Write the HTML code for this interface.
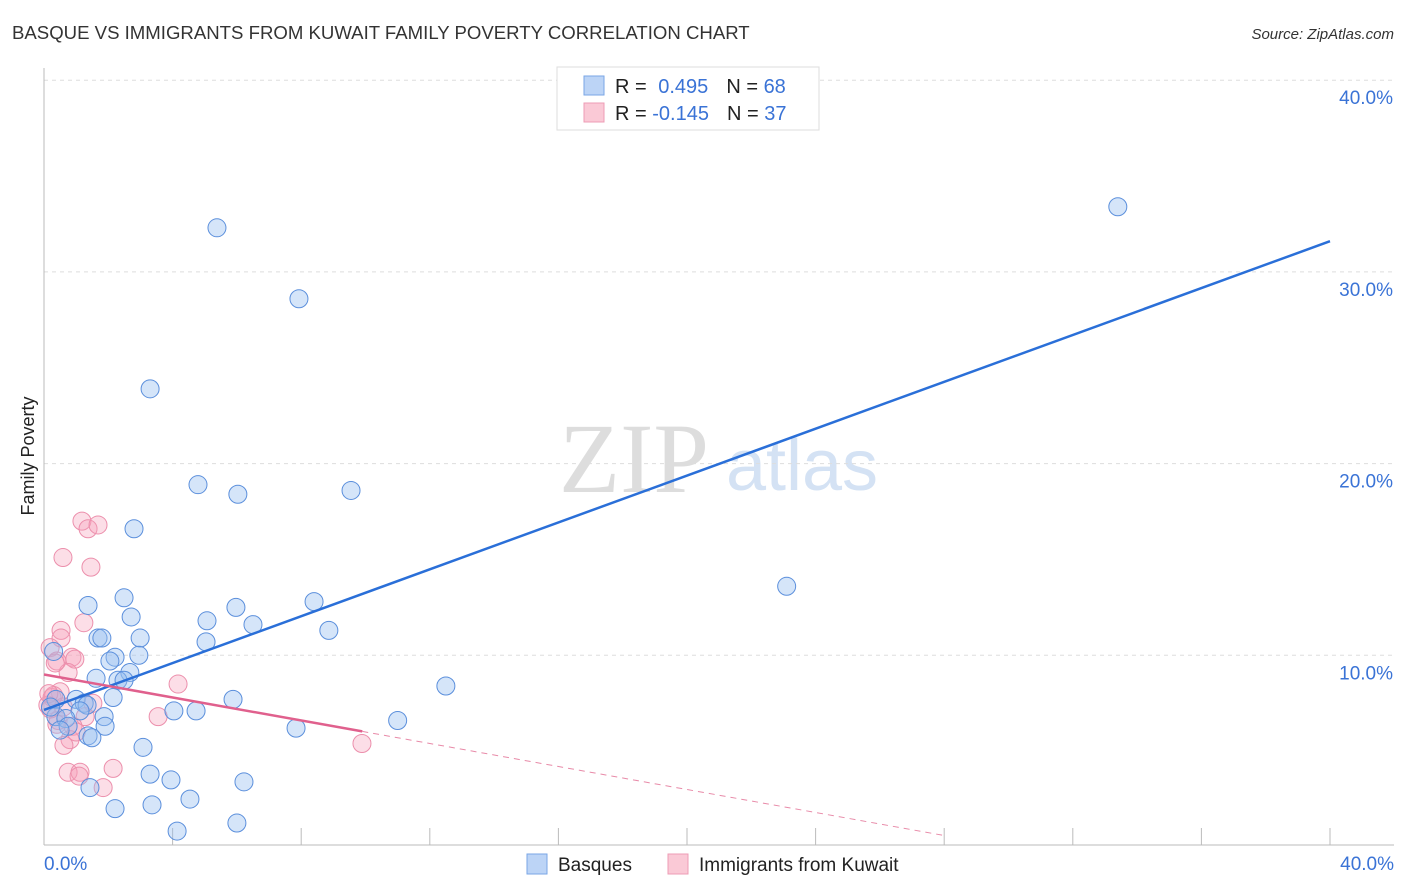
<!DOCTYPE html>
<html><head><meta charset="utf-8"><style>
body{margin:0;background:#fff;font-family:"Liberation Sans",sans-serif}
svg{display:block}
</style></head><body>
<svg id="chart" width="1406" height="892">
<text x="12" y="39" font-size="18.6" fill="#333">BASQUE VS IMMIGRANTS FROM KUWAIT FAMILY POVERTY CORRELATION CHART</text>
<text x="1394" y="39" font-size="15" fill="#333" font-style="italic" text-anchor="end">Source: ZipAtlas.com</text>
<text x="34" y="456" font-size="18" fill="#222" transform="rotate(-90 34 456)" text-anchor="middle">Family Poverty</text>
<text x="634" y="492" font-size="100" fill="#ddd" font-family="Liberation Serif,serif" text-anchor="middle">ZIP</text>
<text x="802" y="490" font-size="72" fill="#d4e2f4" text-anchor="middle">atlas</text>
<g id="grid"></g><g id="axes"></g><g id="pts"></g><g id="lines"></g>
<g>
<rect x="557" y="67" width="262" height="63" fill="#fff" stroke="#ddd"/>
<rect x="584" y="76" width="20" height="19" fill="#bcd4f6" stroke="#7aa6e6"/>
<rect x="584" y="103" width="20" height="19" fill="#fac9d6" stroke="#ee9cb5"/>
<text x="615" y="93" font-size="20" fill="#222">R = <tspan fill="#3a73d6" dx="6">0.495</tspan><tspan dx="18" fill="#222">N = </tspan><tspan fill="#3a73d6">68</tspan></text>
<text x="615" y="120" font-size="20" fill="#222">R = <tspan fill="#3a73d6">-0.145</tspan><tspan dx="18" fill="#222">N = </tspan><tspan fill="#3a73d6"> 37</tspan></text>
</g>
<g>
<rect x="527" y="854" width="20" height="20" fill="#bcd4f6" stroke="#7aa6e6"/>
<text x="558" y="871" font-size="19" fill="#222">Basques</text>
<rect x="668" y="854" width="20" height="20" fill="#fac9d6" stroke="#ee9cb5"/>
<text x="699" y="871" font-size="19" fill="#222">Immigrants from Kuwait</text>
</g>
</svg>
<script>
const blueX=[5.38,7.93,3.30,4.79,6.03,9.55,2.80,33.4,23.1,1.37,2.49,2.71,5.97,5.07,8.40,6.50,8.86,1.68,1.80,2.99,5.04,2.95,2.21,2.05,2.67,1.62,2.30,2.49,12.5,2.15,5.88,1.0,1.25,0.37,1.34,4.04,4.73,1.12,1.87,0.37,0.68,11.0,7.84,1.90,0.75,0.5,1.37,1.49,3.08,3.3,3.95,6.22,1.43,4.54,3.36,2.21,6.0,4.14,0.2,0.3];
const blueY=[32.3,28.6,23.9,18.9,18.4,18.6,16.6,33.4,13.6,12.6,13.0,12.0,12.5,11.8,12.8,11.6,11.3,10.9,10.9,10.9,10.7,10.0,9.9,9.7,9.1,8.8,8.7,8.7,8.4,7.8,7.7,7.7,7.5,7.7,7.4,7.1,7.1,7.1,6.8,6.8,6.7,6.6,6.2,6.3,6.3,6.1,5.8,5.7,5.2,3.8,3.5,3.4,3.1,2.5,2.2,2.0,1.25,0.83,7.3,10.2];
const pinkX=[1.18,1.37,1.68,0.59,1.46,1.24,0.53,0.53,0.19,0.87,0.96,0.40,0.75,4.17,0.5,0.25,0.12,1.52,1.28,3.55,0.44,0.90,0.81,0.62,9.89,0.75,1.12,2.15,1.09,1.84,0.4,0.2,0.3,0.6,1.0,0.15,0.35];
const pinkY=[17.0,16.6,16.8,15.1,14.6,11.7,11.3,10.9,10.4,9.9,9.8,9.7,9.1,8.5,8.1,7.8,7.4,7.5,6.8,6.8,6.6,6.3,5.6,5.3,5.4,3.9,3.9,4.1,3.7,3.1,6.4,7.2,7.9,7.3,6.0,8.0,9.6];
const yTicks=[10,20,30,40];
const blueLine=[7.15,31.6];
const pinkLine=[9.0,-0.3];
const NS="http://www.w3.org/2000/svg";
const X=v=>44+v/40*1286, Y=v=>847-v*19.17;
function mk(t,a,p){const e=document.createElementNS(NS,t);for(const k in a)e.setAttribute(k,a[k]);document.getElementById(p).appendChild(e);return e;}
for(const t of yTicks){
 const g=mk('line',{x1:44,x2:1394,y1:Y(t),y2:Y(t),stroke:'#ddd','stroke-dasharray':'4,4'},'grid');
 
 
 const l=mk('text',{x:1393,y:Y(t)+24,'font-size':19,fill:'#3a73d6','text-anchor':'end'},'grid');
 l.textContent=t.toFixed(1)+'%';
 
 
}
mk('line',{x1:44,x2:44,y1:68,y2:845,stroke:'#bbb'},'axes');
mk('line',{x1:44,x2:1394,y1:845,y2:845,stroke:'#bbb'},'axes');
for(let i=1;i<=10;i++){mk('line',{x1:X(i*4),x2:X(i*4),y1:828,y2:845,stroke:'#bbb'},'axes');}
let a=mk('text',{x:44,y:870,'font-size':19,fill:'#3a73d6'},'axes');a.textContent='0.0%';


a=mk('text',{x:1394,y:870,'font-size':19,fill:'#3a73d6','text-anchor':'end'},'axes');a.textContent='40.0%';


pinkX.forEach((x,i)=>{const c=mk('circle',{cx:X(x),cy:Y(pinkY[i]),r:9,fill:'rgba(245,160,185,0.35)',stroke:'#ec8fac','stroke-width':1},'pts');
 
 });
blueX.forEach((x,i)=>{const c=mk('circle',{cx:X(x),cy:Y(blueY[i]),r:9,fill:'rgba(150,190,240,0.4)',stroke:'#5b8fdc','stroke-width':1},'pts');
 
 });
let t=mk('line',{x1:X(0),y1:Y(blueLine[0]),x2:X(40),y2:Y(blueLine[1]),stroke:'#2a6fd8','stroke-width':2.5},'lines');


const pf=x=>pinkLine[0]+pinkLine[1]*x;
t=mk('line',{x1:X(0),y1:Y(pf(0)),x2:X(9.9),y2:Y(pf(9.9)),stroke:'#e0608d','stroke-width':2.5},'lines');


t=mk('line',{x1:X(9.9),y1:Y(pf(9.9)),x2:X(28),y2:Y(pf(28)),stroke:'#e88aa8','stroke-width':1,'stroke-dasharray':'6,5'},'lines');


</script>
</body></html>
